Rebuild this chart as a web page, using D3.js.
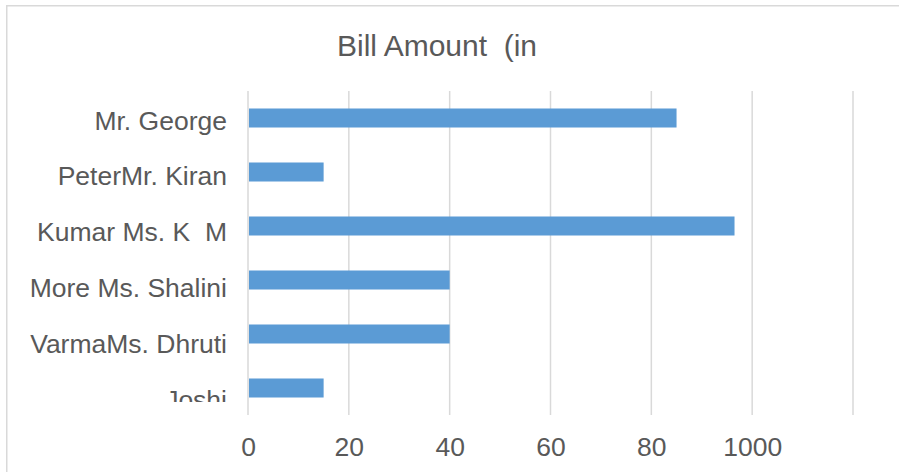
<!DOCTYPE html>
<html>
<head>
<meta charset="utf-8">
<script src="https://cdn.jsdelivr.net/npm/d3@7"></script>
<style>
  html, body { margin: 0; padding: 0; background: #fff; }
  svg { display: block; }
  text { white-space: pre; }
</style>
</head>
<body>
<svg id="chart" width="899" height="472"></svg>
<script>
// ---- data ----
const categories = ["Mr. George", "PeterMr. Kiran", "Kumar Ms. K  M", "More Ms. Shalini", "VarmaMs. Dhruti", "Joshi"];
const values = [85, 15, 96.5, 40, 40, 15];
const tickValues = [0, 20, 40, 60, 80, 100, 120];
const tickLabels = ["0", "20", "40", "60", "80", "1000", ""];
const title = "Bill Amount  (in";

// ---- layout ----
const svg = d3.select("#chart");
const W = 899, H = 472;
const plot = { left: 248, right: 853, top: 91, bottom: 415 };
const textColor = "#595959";
const gridColor = "#D9D9D9";
const barColor = "#5B9BD5";
const font = "'Liberation Sans', Arial, sans-serif";

svg.append("rect").attr("width", W).attr("height", H).attr("fill", "#fff");
svg.append("rect")
  .attr("x", 6.75).attr("y", 5.75).attr("width", 920).attr("height", 500)
  .attr("fill", "none").attr("stroke", gridColor).attr("stroke-width", 1.5);

const x = d3.scaleLinear().domain([0, 120]).range([plot.left, plot.right]);
const y = d3.scaleBand().domain(categories).range([plot.top, plot.bottom])
  .paddingInner(0.648).paddingOuter(0.324);
const labelY = d3.scalePoint().domain(categories).range([129.5, 408.5]);

// gridlines
svg.append("g").selectAll("line").data(tickValues).join("line")
  .attr("x1", d => x(d)).attr("x2", d => x(d))
  .attr("y1", plot.top).attr("y2", plot.bottom)
  .attr("stroke", gridColor).attr("stroke-width", 1.5);

// bars
svg.append("g").selectAll("rect").data(categories).join("rect")
  .attr("x", x(0) + 1)
  .attr("y", d => y(d))
  .attr("width", (d, i) => x(values[i]) - x(0) - 1)
  .attr("height", y.bandwidth())
  .attr("fill", barColor);

// x axis tick labels
const xAxis = d3.axisBottom(x).tickValues(tickValues)
  .tickFormat((d, i) => tickLabels[i]).tickSize(0).tickPadding(0);
const gx = svg.append("g").attr("transform", `translate(0, ${plot.bottom})`).call(xAxis);
gx.select(".domain").remove();
gx.selectAll("text")
  .attr("y", 41).attr("dy", 0)
  .attr("fill", textColor)
  .style("font-family", font).style("font-size", "26.5px");

// category labels (clipped at the bottom)
svg.append("clipPath").attr("id", "labclip")
  .append("rect").attr("x", 0).attr("y", 0).attr("width", 247).attr("height", 402);
const gl = svg.append("g").attr("clip-path", "url(#labclip)");
gl.selectAll("text").data(categories).join("text")
  .attr("x", 227)
  .attr("y", d => labelY(d))
  .attr("text-anchor", "end")
  .attr("fill", textColor)
  .style("font-family", font).style("font-size", "26.5px")
  .text(d => d);

// title
svg.append("text")
  .attr("x", 437).attr("y", 56)
  .attr("text-anchor", "middle")
  .attr("fill", textColor)
  .style("font-family", font).style("font-size", "30px")
  .text(title);
</script>
</body>
</html>
